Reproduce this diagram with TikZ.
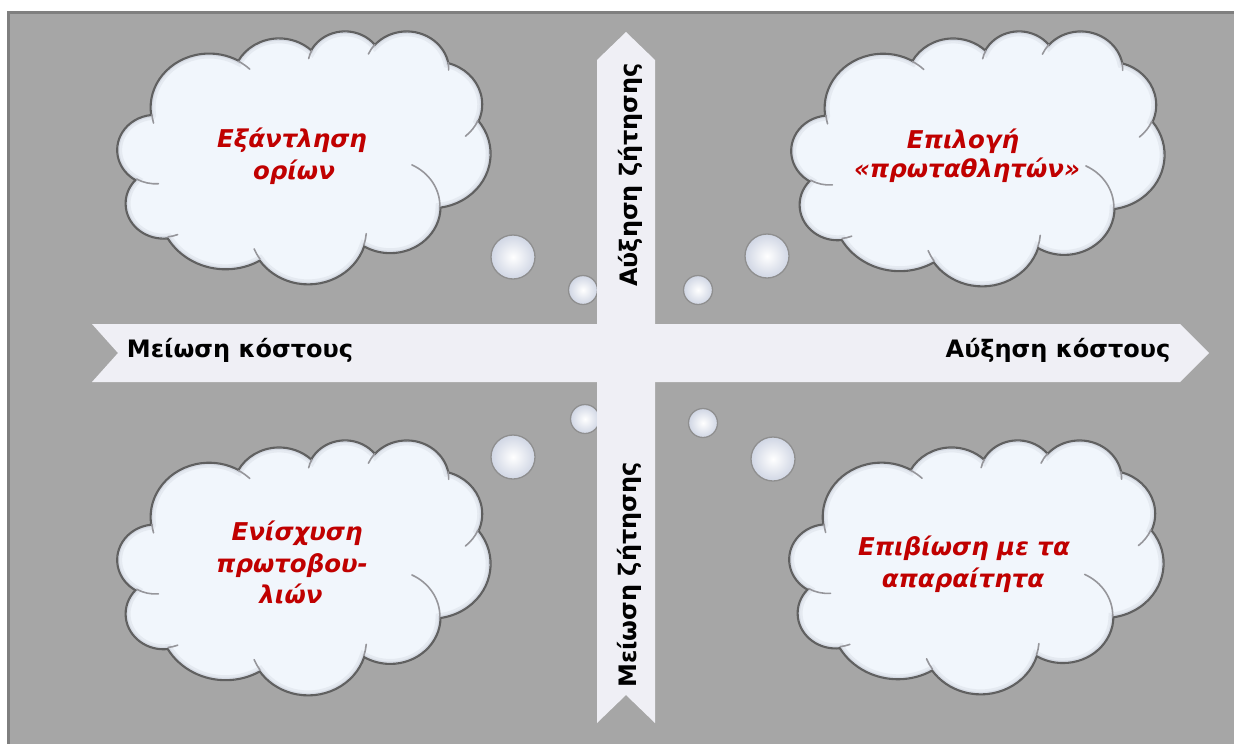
\documentclass[tikz,border=0pt]{standalone}
\usepackage{fontspec}
\setmainfont{DejaVu Sans}
\definecolor{bggray}{RGB}{166,166,166}
\definecolor{framegray}{RGB}{127,127,127}
\definecolor{arrowfill}{RGB}{239,239,245}
\definecolor{cloudfill}{RGB}{241,246,252}
\definecolor{cloudinner}{RGB}{214,219,228}
\definecolor{rimgray}{RGB}{95,95,95}
\definecolor{creasegray}{RGB}{150,150,155}
\definecolor{txtred}{RGB}{192,0,0}
\definecolor{bubbleedge}{RGB}{208,214,228}
\newcommand\cloudoutline{(39.00,143.70)
 arc[x radius=67.53,y radius=91.90,start angle=-187.75,end angle=-59.63]
 arc[x radius=53.33,y radius=72.67,start angle=-152.02,end angle=-45.46]
 arc[x radius=43.65,y radius=59.45,start angle=-153.49,end angle=-37.35]
 arc[x radius=48.57,y radius=65.95,start angle=-139.70,end angle=-10.21]
 arc[x radius=53.33,y radius=72.73,start angle=-74.77,end angle=23.21]
 arc[x radius=67.75,y radius=92.20,start angle=-37.55,end angle=81.86]
 arc[x radius=57.85,y radius=78.67,start angle=0.46,end angle=121.98]
 arc[x radius=67.52,y radius=92.15,start angle=16.84,end angle=146.23]
 arc[x radius=77.20,y radius=105.43,start angle=58.98,end angle=150.18]
 arc[x radius=43.60,y radius=59.36,start angle=-276.71,end angle=-136.98]
 arc[x radius=43.45,y radius=59.45,start angle=-239.65,end angle=-95.89]
 -- cycle}
\newcommand\cloudcreases{
 (46.93,261.77) arc[x radius=43.45,y radius=59.45,start angle=85.55,end angle=120.36]
 (69.28,348.99) arc[x radius=43.60,y radius=59.36,start angle=68.18,end angle=83.29]
 (164.78,390.90) arc[x radius=67.52,y radius=92.15,start angle=146.23,end angle=158.47]
 (288.27,347.51) arc[x radius=67.52,y radius=92.15,start angle=4.74,end angle=16.84]
 (341.29,229.54) arc[x radius=57.85,y radius=78.67,start angle=-64.03,end angle=0.46]
 (417.98,153.54) arc[x radius=53.33,y radius=72.73,start angle=23.21,end angle=49.65]
 (383.24,54.26) arc[x radius=48.57,y radius=65.95,start angle=-10.21,end angle=0.82]
 (290.78,39.52) arc[x radius=48.57,y radius=65.95,start angle=-156.29,end angle=-139.70]
 (221.41,47.20) arc[x radius=43.65,y radius=59.45,start angle=-167.73,end angle=-153.49]
 (140.00,51.92) arc[x radius=67.53,y radius=91.90,start angle=-59.63,end angle=-45.74]
 (41.27,157.89) arc[x radius=67.53,y radius=91.90,start angle=165.54,end angle=174.49]}
\newcommand\drawcloud[4]{%
 \begin{scope}[shift={(#1,#2)},xscale=#3/432,yscale=#4/432]
  \draw[line width=3pt,rimgray] \cloudoutline;
  \fill[cloudfill] \cloudoutline;
  \begin{scope}
   \clip \cloudoutline;
   \draw[line width=9pt,cloudinner!45!cloudfill] \cloudoutline;
   \draw[line width=4pt,cloudinner] \cloudoutline;
  \end{scope}
  \draw[line width=1.2pt,rimgray] \cloudoutline;
  \draw[line width=1.6pt,creasegray,line cap=round] \cloudcreases;
 \end{scope}}
\tikzset{
 bubble/.style={circle,inner sep=0pt,draw=rimgray!70,line width=1.3pt,
   inner color=white,outer color=bubbleedge},
 arrowshape/.style={fill=arrowfill,draw=none},
 axistxt/.style={font=\fontsize{24}{28}\selectfont\bfseries,text=black,inner sep=0pt},
 cloudtxt/.style={font=\fontsize{24.5}{28}\selectfont\bfseries\itshape,text=txtred,inner sep=0pt}
}
\begin{document}
\begin{tikzpicture}[x=1pt,y=-1pt]
\useasboundingbox (0,0) rectangle (1234,744);
\clip (0,0) rectangle (1234,744);
\fill[white] (0,0) rectangle (1234,744);
\fill[bggray] (8.5,12) rectangle (1260,770);
\draw[framegray,line width=3pt] (8.5,12) rectangle (1260,770);
% clouds
\drawcloud{118}{31}{372}{252}
\drawcloud{792}{31}{372}{254}
\drawcloud{118}{440}{372}{254}
\drawcloud{790}{440}{373}{253}
% bubbles
\node[bubble,minimum size=44pt] (b1) at (513,257) {};
\node[bubble,minimum size=29pt] (b2) at (583,290) {};
\node[bubble,minimum size=29pt] (b3) at (698,290) {};
\node[bubble,minimum size=44pt] (b4) at (767,256) {};
\node[bubble,minimum size=29pt] (b5) at (585,419) {};
\node[bubble,minimum size=44pt] (b6) at (513,457) {};
\node[bubble,minimum size=29pt] (b7) at (703,423) {};
\node[bubble,minimum size=44pt] (b8) at (773,459) {};
% arrows
\fill[arrowshape] (597,723) -- (597,60) -- (626,32) -- (655,60) -- (655,723) -- (626,695) -- cycle;
\fill[arrowshape] (92,324) -- (1180,324) -- (1209,353) -- (1180,382) -- (92,382) -- (118,353) -- cycle;
% axis labels
\node[axistxt,anchor=base] (hl) at (240,357) {Μείωση κόστους};
\node[axistxt,anchor=base] (hr) at (1058,357) {Αύξηση κόστους};
\node[axistxt,anchor=base,rotate=90] (vu) at (637,175) {Αύξηση ζήτησης};
\node[axistxt,anchor=base,rotate=90] (vd) at (636,575) {Μείωση ζήτησης};
% cloud texts
\node[cloudtxt,anchor=base] (t1a) at (292,147) {Εξάντληση};
\node[cloudtxt,anchor=base] (t1b) at (294,179) {ορίων};
\node[cloudtxt,anchor=base] (t2a) at (963,148) {Επιλογή};
\node[cloudtxt,anchor=base] (t2b) at (967,177) {«πρωταθλητών»};
\node[cloudtxt,anchor=base] (t3a) at (297,540) {Ενίσχυση};
\node[cloudtxt,anchor=base] (t3b) at (292,572) {πρωτοβου-};
\node[cloudtxt,anchor=base] (t3c) at (291,603) {λιών};
\node[cloudtxt,anchor=base] (t4a) at (964,555) {Επιβίωση με τα};
\node[cloudtxt,anchor=base] (t4b) at (963,587) {απαραίτητα};
\end{tikzpicture}
\end{document}
